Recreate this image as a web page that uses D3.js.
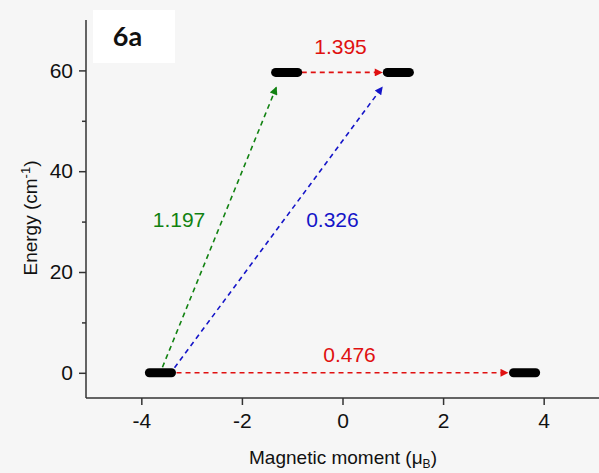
<!DOCTYPE html>
<html><head><meta charset="utf-8">
<script src="https://cdn.jsdelivr.net/npm/d3@7"></script>
<style>body{margin:0;background:#f6f6f6;}svg{display:block;}</style>
</head><body>
<svg id="c" width="599" height="473"></svg>
<script>
// Data
const levels = [ // energy levels: x centre (μB), energy (cm^-1)
  {x: -3.62, e: 0}, {x: 3.62, e: 0}, {x: -1.11, e: 59.6}, {x: 1.11, e: 59.6}
];
const levelHalfWidth = 0.3;
const transitions = [ // x1,y1,x2,y2 in data units, value, colour, label position
  {x1: -3.3, y1: 0, x2: 3.3, y2: 0, value: "0.476", color: "#e01010", tx: 0.14, ty: 2.2},
  {x1: -0.81, y1: 59.6, x2: 0.8, y2: 59.6, value: "1.395", color: "#e01010", tx: -0.04, ty: 63.2},
  {x1: -3.58, y1: 1.1, x2: -1.31, y2: 56.8, value: "1.197", color: "#118211", tx: -3.25, ty: 29.0},
  {x1: -3.34, y1: 1.0, x2: 0.8, y2: 56.8, value: "0.326", color: "#1414c8", tx: -0.2, ty: 29.0}
];
const xTicks = [-4, -2, 0, 2, 4];
const yTicks = [0, 20, 40, 60];
const yMinorTicks = [10, 30, 50];

const svg = d3.select("#c");
const x = d3.scaleLinear().domain([-5.1, 5.1]).range([86, 599]);
const y = d3.scaleLinear().domain([-5, 70]).range([398, 20]);

// label box
svg.append("rect").attr("x", 93).attr("y", 10).attr("width", 82).attr("height", 53).attr("fill", "#ffffff");
svg.append("text").attr("x", 127.5).attr("y", 46).attr("text-anchor", "middle")
  .attr("font-family", "Lato, 'Open Sans', sans-serif").attr("font-weight", "bold").attr("font-size", 27)
  .attr("fill", "#111").text("6a");

const font = "'Liberation Sans', Arial, sans-serif";

// axes
const xAxis = svg.append("g").attr("transform", `translate(0,${y(-5)})`)
  .call(d3.axisBottom(x).tickValues(xTicks).tickSize(7).tickPadding(8).tickFormat(d => d < 0 ? "-" + Math.abs(d) : d));
const yAxis = svg.append("g").attr("transform", `translate(${x(-5.1)},0)`)
  .call(d3.axisLeft(y).tickValues(yTicks).tickSize(7).tickPadding(6));
svg.append("g").attr("transform", `translate(${x(-5.1)},0)`)
  .call(d3.axisLeft(y).tickValues(yMinorTicks).tickSize(4).tickFormat(""))
  .select(".domain").remove();
svg.selectAll(".domain").attr("stroke", "#333").attr("stroke-width", 1.5);
svg.selectAll(".tick line").attr("stroke", "#333").attr("stroke-width", 1.5);
svg.selectAll(".tick text").attr("font-family", font).attr("font-size", 21).attr("fill", "#111");
xAxis.select(".domain").attr("d", `M${x(-5.1)},0H${x(5.1)}`);
yAxis.select(".domain").attr("d", `M0,${y(70)}V${y(-5)}`);

// axis titles
svg.append("text").attr("x", 343).attr("y", 464).attr("text-anchor", "middle")
  .attr("font-family", font).attr("font-size", 19).attr("fill", "#111")
  .html('Magnetic moment (μ<tspan font-size="12" dy="4">B</tspan><tspan dy="-4">)</tspan>');
svg.append("text").attr("transform", "translate(37,218) rotate(-90)").attr("text-anchor", "middle")
  .attr("font-family", font).attr("font-size", 19).attr("fill", "#111")
  .html('Energy (cm<tspan font-size="13" dy="-7">-1</tspan><tspan dy="7">)</tspan>');

// arrow markers
const defs = svg.append("defs");
transitions.forEach((t, i) => {
  defs.append("marker").attr("id", "m" + i).attr("viewBox", "0 0 10 10").attr("refX", 10).attr("refY", 5)
    .attr("markerWidth", 10).attr("markerHeight", 8).attr("markerUnits", "userSpaceOnUse").attr("orient", "auto")
    .append("path").attr("d", "M0,0L10,5L0,10z").attr("fill", t.color);
});

// transitions
svg.selectAll("line.tr").data(transitions).join("line").attr("class", "tr")
  .attr("x1", d => x(d.x1)).attr("y1", d => y(d.y1))
  .attr("x2", d => x(d.x2)).attr("y2", d => y(d.y2))
  .attr("stroke", d => d.color).attr("stroke-width", 1.6).attr("stroke-dasharray", "5,4")
  .attr("marker-end", (d, i) => `url(#m${i})`);

// levels
svg.selectAll("line.lv").data(levels).join("line").attr("class", "lv")
  .attr("x1", d => x(d.x - levelHalfWidth + 0.08)).attr("x2", d => x(d.x + levelHalfWidth - 0.08))
  .attr("y1", d => y(d.e)).attr("y2", d => y(d.e))
  .attr("stroke", "#000").attr("stroke-width", 9).attr("stroke-linecap", "round");

// labels
svg.selectAll("text.val").data(transitions).join("text").attr("class", "val")
  .attr("x", d => x(d.tx)).attr("y", d => y(d.ty)).attr("text-anchor", "middle")
  .attr("font-family", font).attr("font-size", 21).attr("fill", d => d.color).text(d => d.value);
</script>
</body></html>
